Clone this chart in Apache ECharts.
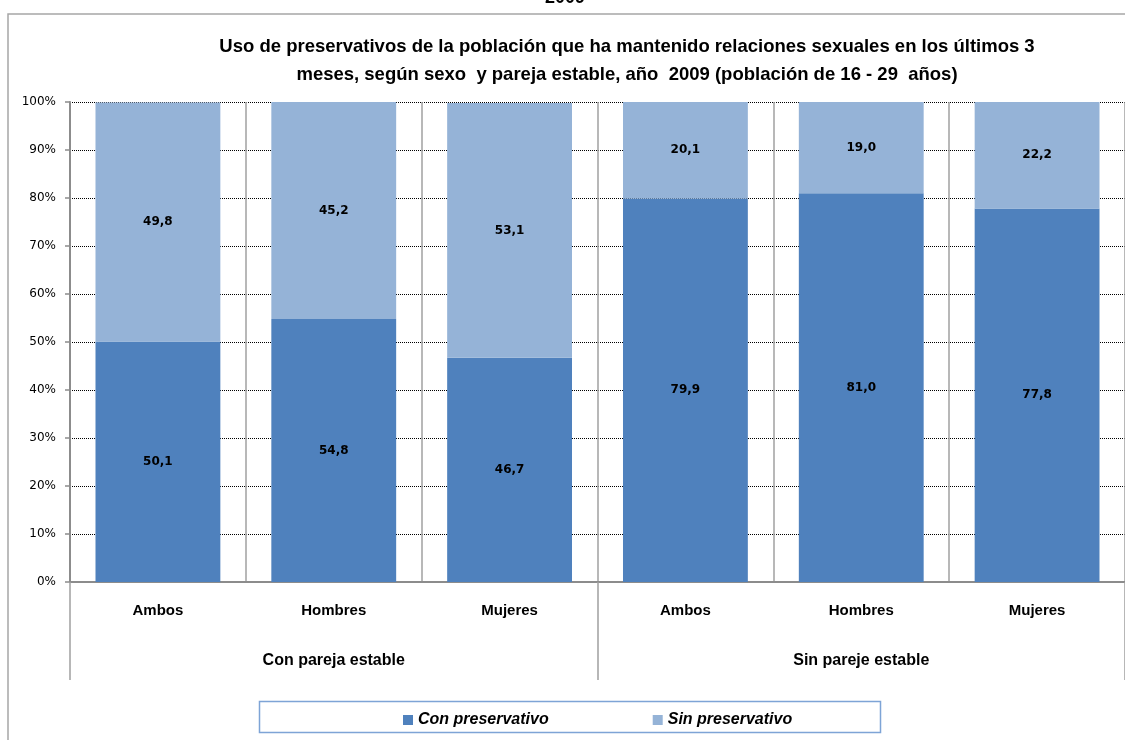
<!DOCTYPE html>
<html>
<head>
<meta charset="utf-8">
<script src="https://cdn.jsdelivr.net/npm/echarts@6/dist/echarts.min.js"></script>
<style>
  html, body { margin: 0; padding: 0; background: #ffffff; }
  #chart { width: 1125px; height: 740px; }
</style>
</head>
<body>
<div id="chart"></div>
<script>
// Subgroups (sex) and groups (stable partner) for the two-level category axis
const sexCategories = ['Ambos', 'Hombres', 'Mujeres', 'Ambos', 'Hombres', 'Mujeres'];
const partnerGroups = ['Con pareja estable', 'Sin pareje estable'];

// Percentages of each subgroup
const conPreservativo = [50.1, 54.8, 46.7, 79.9, 81.0, 77.8];
const sinPreservativo = [49.8, 45.2, 53.1, 20.1, 19.0, 22.2];

const yTicks = [0, 10, 20, 30, 40, 50, 60, 70, 80, 90, 100];

const chartTitle = 'Uso de preservativos de la población que ha mantenido relaciones sexuales en los últimos 3\nmeses, según sexo  y pareja estable, año  2009 (población de 16 - 29  años)';

const chart = echarts.init(document.getElementById('chart'), null, { renderer: 'canvas' });

const fmt = p => p.value.toFixed(1).replace('.', ',');

const labelStyle = {
  show: true,
  position: 'inside',
  formatter: fmt,
  color: '#000000',
  fontFamily: 'DejaVu Sans',
  fontWeight: 'bold',
  fontSize: 12
};

chart.setOption({
  animation: false,
  backgroundColor: '#ffffff',
  title: {
    text: chartTitle,
    left: 622,
    top: 28,
    textAlign: 'center',
    textStyle: {
      fontFamily: 'Liberation Sans',
      fontWeight: 'bold',
      fontSize: 18.5,
      lineHeight: 28,
      color: '#000000'
    }
  },
  graphic: [
    {
      type: 'rect',
      silent: true,
      shape: { x: 8, y: 14, width: 1140, height: 760 },
      style: { fill: 'none', stroke: '#a6a6a6', lineWidth: 1.5 }
    },
    {
      type: 'text',
      silent: true,
      left: 545,
      top: -11,
      style: {
        text: '2009',
        fontFamily: 'Liberation Sans',
        fontWeight: 'bold',
        fontSize: 18,
        fill: '#000000'
      }
    },
    {
      type: 'rect',
      silent: true,
      shape: { x: 259.5, y: 701.5, width: 621, height: 31 },
      style: { fill: '#ffffff', stroke: '#7ea4d6', lineWidth: 1.5 },
      z: 0
    }
  ],
  legend: {
    left: 398,
    top: 707,
    itemWidth: 10,
    itemHeight: 10,
    itemGap: 104,
    icon: 'rect',
    z: 10,
    data: ['Con preservativo', 'Sin preservativo'],
    textStyle: {
      fontFamily: 'Liberation Sans',
      fontWeight: 'bold',
      fontStyle: 'italic',
      fontSize: 16,
      color: '#000000'
    }
  },
  grid: {
    left: 70,
    right: 0,
    top: 102,
    bottom: 158,
    containLabel: false
  },
  xAxis: [
    {
      type: 'category',
      data: sexCategories,
      position: 'bottom',
      axisLine: { show: true, lineStyle: { color: '#8c8c8c', width: 2 } },
      axisTick: { show: false },
      splitLine: { show: true, lineStyle: { color: '#a0a0a0', width: 1.5 } },
      axisLabel: {
        margin: 21,
        color: '#000000',
        fontFamily: 'Liberation Sans',
        fontWeight: 'bold',
        fontSize: 15
      }
    },
    {
      type: 'category',
      data: partnerGroups,
      position: 'bottom',
      offset: 0,
      axisLine: { show: false },
      axisTick: { show: true, length: 98, lineStyle: { color: '#a0a0a0', width: 1.5 } },
      splitLine: { show: false },
      axisLabel: {
        margin: 71,
        color: '#000000',
        fontFamily: 'Liberation Sans',
        fontWeight: 'bold',
        fontSize: 16
      }
    }
  ],
  yAxis: {
    type: 'value',
    min: 0,
    max: 100,
    interval: 10,
    axisLine: { show: true, lineStyle: { color: '#8c8c8c', width: 2 } },
    axisTick: { show: true, length: 5, lineStyle: { color: '#8c8c8c', width: 1.5 } },
    splitLine: { show: true, lineStyle: { color: '#000000', type: [1, 1], width: 1 } },
    axisLabel: {
      margin: 14,
      color: '#000000',
      fontFamily: 'DejaVu Sans',
      fontSize: 12,
      formatter: v => (yTicks.indexOf(v) >= 0 ? v + '%' : '')
    }
  },
  series: [
    {
      name: 'Con preservativo',
      type: 'bar',
      stack: 'total',
      xAxisIndex: 0,
      barCategoryGap: '29%',
      data: conPreservativo,
      itemStyle: { color: '#4f81bd' },
      label: labelStyle
    },
    {
      name: 'Sin preservativo',
      type: 'bar',
      stack: 'total',
      xAxisIndex: 0,
      barCategoryGap: '29%',
      data: sinPreservativo,
      itemStyle: { color: '#95b3d7' },
      label: labelStyle
    }
  ]
});
</script>
</body>
</html>
